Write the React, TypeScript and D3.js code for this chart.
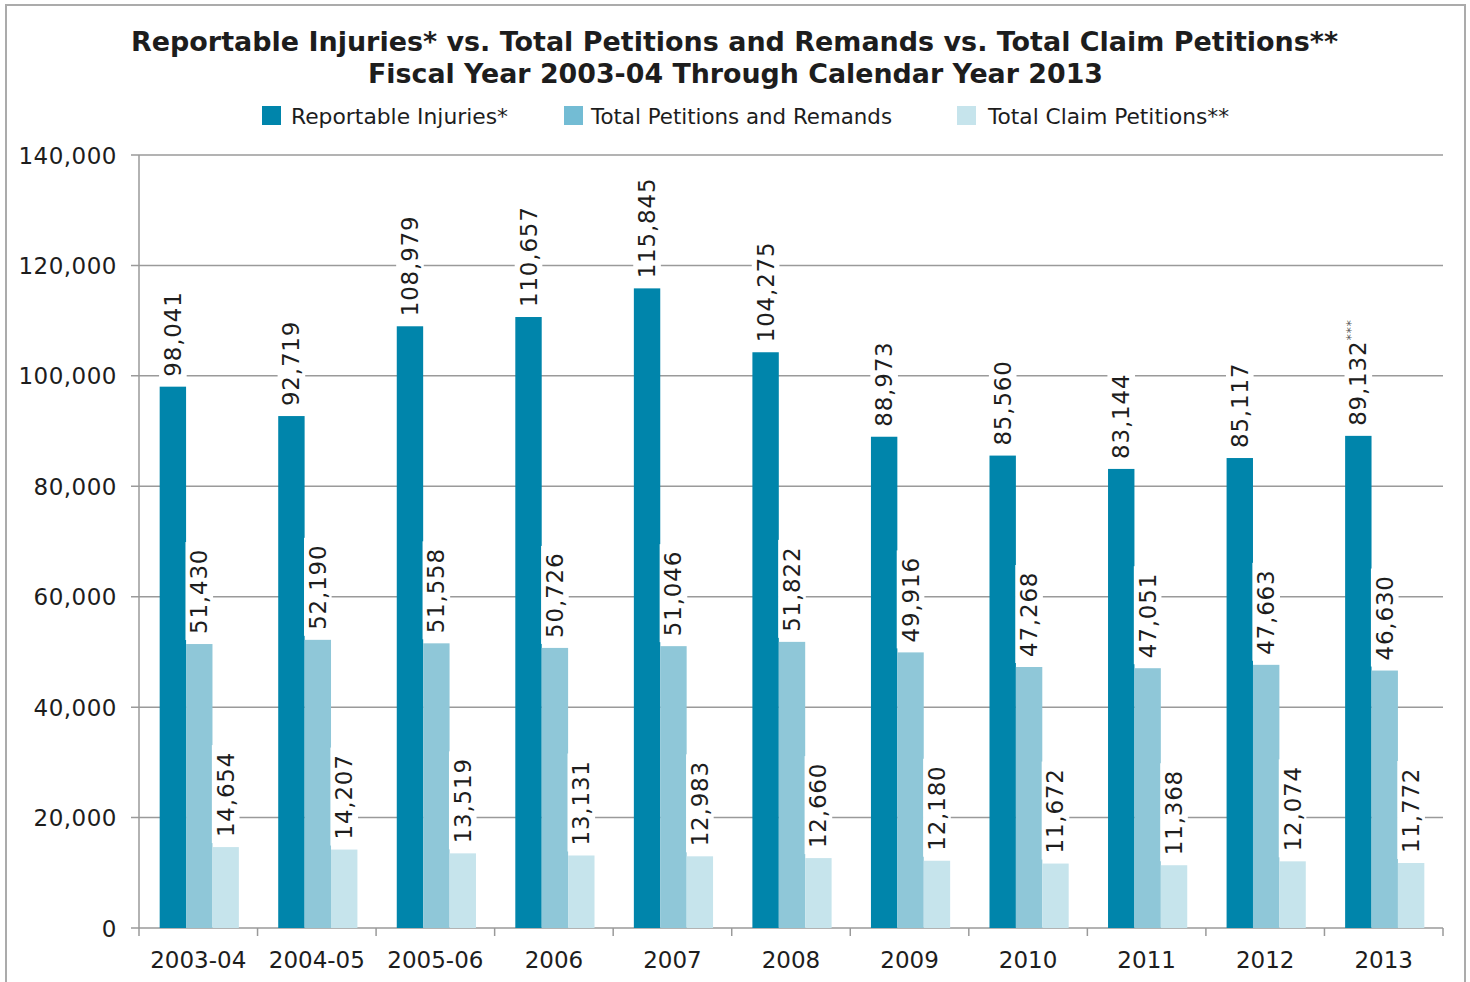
import React from "react";
import * as d3 from "d3";

const categories = ["2003-04", "2004-05", "2005-06", "2006", "2007", "2008", "2009", "2010", "2011", "2012", "2013"];
const reportableInjuries = [98041, 92719, 108979, 110657, 115845, 104275, 88973, 85560, 83144, 85117, 89132];
const totalPetitions = [51430, 52190, 51558, 50726, 51046, 51822, 49916, 47268, 47051, 47663, 46630];
const totalClaimPetitions = [14654, 14207, 13519, 13131, 12983, 12660, 12180, 11672, 11368, 12074, 11772];
const seriesNames = ["Reportable Injuries*", "Total Petitions and Remands", "Total Claim Petitions**"];
const yTicks = [0, 20000, 40000, 60000, 80000, 100000, 120000, 140000];
const labelSuffix = ["", "", "", "", "", "", "", "", "", "", "***"];

const W = 1470;
const H = 982;
const left = 139;
const right = 1443;
const top = 155;
const bottom = 928;
const barColors = ["#0085AB", "#8FC7D8", "#C6E4EC"];
const legendColors = ["#0085AB", "#73BCD4", "#C6E4EC"];
const FONT = "'DejaVu Sans', Verdana, sans-serif";
const TEXT = "#1d1d1d";

export default function App() {
  const series = [reportableInjuries, totalPetitions, totalClaimPetitions];
  const x0 = d3.scaleBand<string>().domain(categories).range([left, right]).padding(0);
  const groupW = 79.2;
  const x1 = d3
    .scaleBand<number>()
    .domain([0, 1, 2])
    .range([(x0.bandwidth() - groupW) / 2 + 1, (x0.bandwidth() + groupW) / 2 + 1])
    .padding(0);
  const y = d3.scaleLinear().domain([0, 140000]).range([bottom, top]);
  const fmt = d3.format(",");

  const legendItems = [
    { sx: 262, tx: 291, len: 217 },
    { sx: 564, tx: 591, len: 301 },
    { sx: 957, tx: 988, len: 241 },
  ];

  return (
    <svg
      width={W}
      height={H}
      style={{ position: "absolute", left: 0, top: 0, background: "#fff" }}
      fontFamily={FONT}
    >
      <rect x={0} y={0} width={W} height={H} fill="#fff" />
      <rect x={6} y={5} width={1459} height={1000} fill="none" stroke="#ababab" strokeWidth={2} />

      {/* Title */}
      <text
        x={734.5}
        y={51}
        textAnchor="middle"
        fontSize={26}
        fontWeight="bold"
        fill={TEXT}
        textLength={1207}
        lengthAdjust="spacingAndGlyphs"
      >
        Reportable Injuries* vs. Total Petitions and Remands vs. Total Claim Petitions**
      </text>
      <text
        x={735.5}
        y={83}
        textAnchor="middle"
        fontSize={26}
        fontWeight="bold"
        fill={TEXT}
        textLength={735}
        lengthAdjust="spacingAndGlyphs"
      >
        Fiscal Year 2003-04 Through Calendar Year 2013
      </text>

      {/* Legend */}
      {seriesNames.map((name, i) => (
        <g key={name}>
          <rect x={legendItems[i].sx} y={106} width={19} height={19} fill={legendColors[i]} />
          <text
            x={legendItems[i].tx}
            y={124}
            fontSize={21}
            fill={TEXT}
            textLength={legendItems[i].len}
            lengthAdjust="spacingAndGlyphs"
          >
            {name}
          </text>
        </g>
      ))}

      {/* Gridlines and y ticks */}
      {yTicks.map((t) => (
        <g key={t}>
          <line x1={131} x2={right} y1={y(t)} y2={y(t)} stroke="#9a9a9a" strokeWidth={1.5} />
          <text x={117} y={y(t) + 8.5} textAnchor="end" fontSize={23} fill={TEXT} letterSpacing={0.5}>
            {fmt(t)}
          </text>
        </g>
      ))}

      {/* Axes */}
      <line x1={left} x2={left} y1={top} y2={bottom} stroke="#9a9a9a" strokeWidth={1.5} />
      {categories.map((c) => (
        <line key={"t" + c} x1={x0(c)!} x2={x0(c)!} y1={bottom} y2={bottom + 8} stroke="#9a9a9a" strokeWidth={1.5} />
      ))}
      <line x1={right} x2={right} y1={bottom} y2={bottom + 8} stroke="#9a9a9a" strokeWidth={1.5} />

      {/* Bars */}
      {categories.map((c, ci) =>
        series.map((s, si) => (
          <rect
            key={c + si}
            x={x0(c)! + x1(si)!}
            y={y(s[ci])}
            width={x1.bandwidth()}
            height={bottom - y(s[ci])}
            fill={barColors[si]}
          />
        ))
      )}

      {/* Data labels */}
      {categories.map((c, ci) =>
        series.map((s, si) => {
          const cx = x0(c)! + x1(si)! + x1.bandwidth() / 2;
          const yb = y(s[ci]) - 10;
          const label = fmt(s[ci]);
          const len = label.length * 14;
          const suffix = si === 0 ? labelSuffix[ci] : "";
          return (
            <g key={"l" + c + si}>
              <rect x={cx - 13.8} y={yb - len - 8} width={27.6} height={len + 14} fill="#fff" />
              <text
                transform={`translate(${cx + 8},${yb}) rotate(-90)`}
                fontSize={23}
                fill={TEXT}
                letterSpacing={0.8}
              >
                {label}
                {suffix && (
                  <tspan fontSize={13} dy={-11} dx={0} letterSpacing={0.5} fill="#555">
                    {suffix}
                  </tspan>
                )}
              </text>
            </g>
          );
        })
      )}

      {/* Category labels */}
      {categories.map((c) => (
        <text key={"c" + c} x={x0(c)! + x0.bandwidth() / 2} y={968} textAnchor="middle" fontSize={23} fill={TEXT}>
          {c}
        </text>
      ))}
    </svg>
  );
}
